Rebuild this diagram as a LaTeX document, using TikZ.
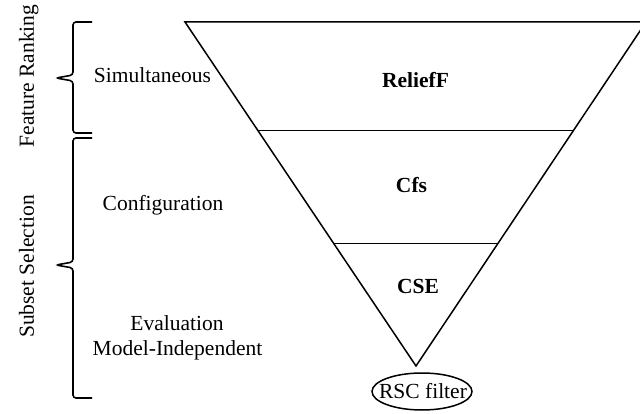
\documentclass[tikz,border=0pt]{standalone}
\usepackage{fontspec}
\setmainfont{Liberation Serif}
\usetikzlibrary{calc}
\begin{document}
\begin{tikzpicture}[x=1pt,y=-1pt,
  txt/.style={font=\fontsize{21.5}{24}\selectfont, inner sep=0pt, anchor=base},
  btxt/.style={txt, font=\fontsize{21.5}{24}\selectfont\bfseries},
  edge/.style={line width=1.5pt, line join=miter},
  bracket/.style={line width=1.6pt, rounded corners=3pt}]
  \useasboundingbox (0,0) rectangle (640,414);
  \begin{scope}
    \clip (0,0) rectangle (640,414);
    % funnel corners
    \coordinate (tl) at (185,22);
    \coordinate (tr) at (646,22);
    \coordinate (apex) at (416,366);
    \draw[edge] (tl) -- (tr) -- (apex) -- cycle;
    % horizontal dividers
    \coordinate (l1) at ($(tl)!0.3149!(apex)$);
    \coordinate (r1) at ($(tr)!0.3149!(apex)$);
    \coordinate (l2) at ($(tl)!0.6443!(apex)$);
    \coordinate (r2) at ($(tr)!0.6443!(apex)$);
    \draw[edge] (l1) -- (r1);
    \draw[edge] (l2) -- (r2);
  \end{scope}
  % stage names inside the funnel
  \node[btxt] (relief) at (415.5,88) {ReliefF};
  \node[btxt] (cfs) at (411.5,193) {Cfs};
  \node[btxt] (cse) at (418,294) {CSE};
  % filter at the outlet
  \node[txt] (rsc) at (423,398) {RSC filter};
  \draw[edge] (422,391.5) ellipse (50pt and 18.5pt);
  % labels to the left
  \node[txt] (sim) at (152.5,83) {Simultaneous};
  \node[txt] (conf) at (163,211) {Configuration};
  \node[txt] (eval) at (177,330) {Evaluation};
  \node[txt] (modind) at (177.5,355) {Model-Independent};
  % brackets
  \draw[bracket] (92,22) -- (73,22) -- (73,75) -- (56,78) -- (73,81) -- (73,133) -- (92,133);
  \draw[bracket] (92,138) -- (73,138) -- (73,262) -- (56,265) -- (73,268) -- (73,398) -- (92,398);
  % group titles
  \node[txt, rotate=90] (fr) at (34,76) {Feature Ranking};
  \node[txt, rotate=90] (ss) at (34,266.5) {Subset Selection};
\end{tikzpicture}
\end{document}
